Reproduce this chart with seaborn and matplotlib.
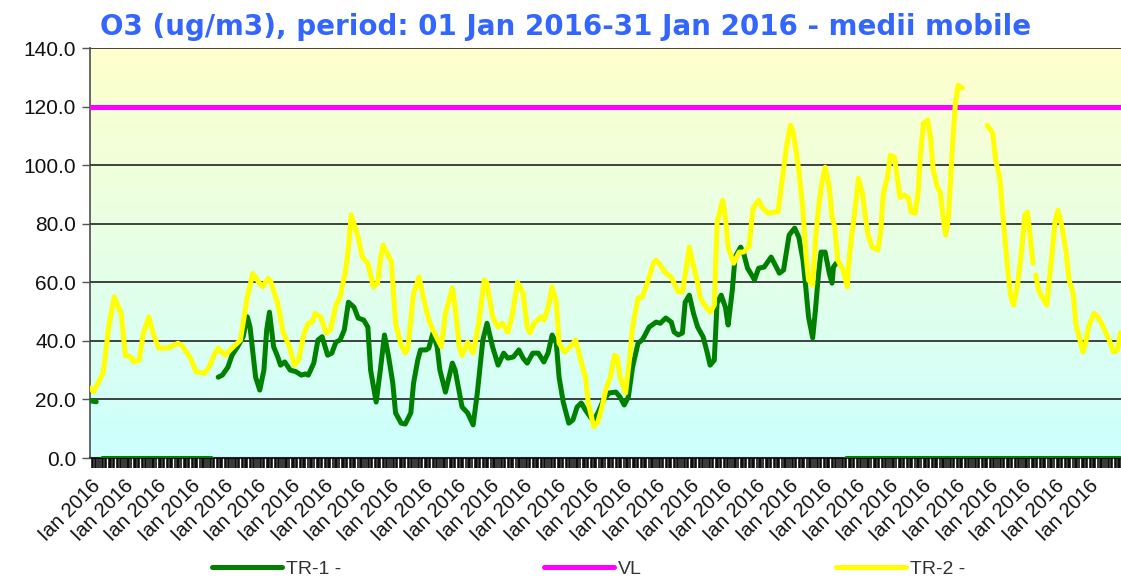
import numpy as np
import pandas as pd
import matplotlib
matplotlib.use("Agg")
import matplotlib.pyplot as plt
from matplotlib.colors import LinearSegmentedColormap
from matplotlib.lines import Line2D
import seaborn as sns

# hourly moving averages, January 2016 (hour index 0..743); None marks a break in the line
tr1_hours = [0, 4, None, 8, 87, None,
             92, 95, 99, 102, 106, 110, 113, 115, 119, 122, 125, 127, 129, 132, 135, 137, 140, 144, 148,
             152, 155, 157, 161, 164, 167, 171, 174, 177, 180, 183, 186, 190, 193, 197, 200, 202, 206, 209,
             212, 215, 218, 220, 224, 227, 231, 233, 236, 238, 242, 244, 247, 250, 252, 256, 261, 263, 268,
             272, 276, 279, 283, 286, 290, 294, 298, 301, 305, 309, 312, 315, 319, 323, 327, 330, 333, 336,
             338, 341, 345, 348, 351, 354, 357, 361, 363, 366, 370, 374, 379, 382, 385, 388, 391, 395, 398,
             400, 403, 408, 411, 415, 419, 421, 424, 427, 429, 432, 435, 438, 442, 445, 447, 450, 452, 455,
             458, 460, 463, 465, 469, 471, 474, 477, 479, 482, 486, 491, 494, 497, 500, 504, 508, 511, 514,
             516, 518, 521, 523, 525, 527, 530, 533, 535, 536, 538, None, 545, 743]
tr1_values = [19.5, 19.2, None, 0, 0, None,
              27.6, 28.3, 31, 35.1, 38, 41.4, 48.2, 44.7, 27.6, 23.2, 30, 43.7, 49.8, 38, 34.5, 31.7, 32.8, 30, 29.5,
              28.3, 28.7, 28.3, 32.4, 40.3, 41.4, 35.1, 35.8, 39.6, 40.3, 43.7, 53.2, 51.5, 47.8, 47.1, 44.7, 30, 19.1, 30,
              42, 34.5, 25.6, 15.4, 11.9, 11.6, 15.4, 25.6, 33.4, 36.9, 36.9, 37.5, 42.7, 38, 30, 22.5, 32.4, 30, 17.4,
              15.4, 11.3, 22.2, 40.3, 46, 38, 31.7, 35.8, 34.1, 34.5, 36.9, 34.1, 32.4, 35.8, 35.8, 32.8, 35.8, 42, 39.2,
              27.6, 19.1, 11.9, 13, 17.4, 18.8, 16.4, 13.7, 13, 15.4, 19.8, 22.2, 22.5, 20.8, 18.1, 20.8, 31, 39.2, 40.3,
              42, 44.7, 46.4, 46, 47.8, 46.4, 43, 42, 42.7, 53.2, 55.6, 49.4, 44.7, 41.3, 35.8, 31.7, 33.4, 52.9, 55.6,
              51.5, 45.4, 57.3, 68.6, 72, 70.3, 64.8, 62.5, 60.8, 64.8, 65.2, 68.6, 65.9, 63.1, 64.2, 76.1, 78.5, 75.4, 67.6,
              58.4, 48.2, 41, 50.5, 61.8, 70.3, 70.3, 63.1, 59.7, 65.2, 66.5, None, 0, 0]

tr2_hours = [0, 2, 9, 13, 17, 22, 25, 29, 31, 35, 38, 42, 45, 49, 56, 63, 66, 72, 76, 82, 85, 89, 92, 97,
             103, 108, 113, 117, 121, 124, 128, 130, 135, 139, 143, 147, 150, 154, 157, 160, 162, 166, 170,
             173, 177, 180, 184, 186, 188, 193, 196, 200, 204, 207, 209, 211, 217, 220, 224, 227, 229, 233,
             237, 240, 244, 247, 253, 256, 261, 263, 266, 268, 272, 276, 280, 284, 286, 290, 294, 297, 301,
             304, 308, 312, 315, 317, 320, 325, 327, 330, 333, 336, 338, 342, 346, 350, 354, 357, 359, 363,
             366, 369, 372, 375, 378, 380, 382, 386, 389, 391, 395, 398, 402, 406, 408, 411, 415, 419, 421,
             424, 427, 429, 432, 434, 438, 440, 444, 447, 450, 452, 456, 458, 460, 464, 468, 471, 475, 478,
             482, 485, 489, 493, 496, 499, 502, 505, 507, 511, 514, 516, 518, 521, 523, 525, 528, 530, 533,
             535, 537, 539, 543, 546, 547, 549, 551, 554, 557, 559, 561, 564, 568, 570, 572, 575, 577, 580,
             582, 584, 587, 590, 592, 595, 597, 599, 601, 604, 606, 608, 611, 613, 616, 617, 619, 622, 624,
             626, 629, None, 647, 651, 653, 656, 659, 662, 664, 666, 669, 672, 674, 676, 678, 680, None,
             682, 684, 687, 690, 691, 694, 696, 698, 701, 704, 706, 709, 711, 713, 716, 718, 720, 724, 727,
             731, 735, 738, 741, 743]
tr2_values = [23.9, 22.6, 29, 44.7, 55, 49.4, 35, 34.5, 32.8, 33.4, 42.6, 48.2, 42.6, 37.5, 37.6, 39.2, 38.3, 34.1, 29.5, 28.9, 30.6, 35.1, 37.5, 35.1,
              38, 40.2, 55, 63, 60.2, 58.5, 61.3, 60.2, 52.8, 42.7, 38.6, 31.7, 33.4, 42.7, 46, 46.5, 49.4, 48.2, 42.7,
              43.7, 52.2, 55, 64.2, 72, 83, 75.4, 68.6, 66.5, 58.4, 59.7, 67.6, 72.7, 67, 46, 38.6, 35.8, 38, 56.3,
              61.8, 55, 47.1, 43.7, 38, 49.4, 58, 51.5, 38, 35, 39.6, 35.8, 46, 60.8, 59.7, 48.2, 44.7, 46, 43,
              48.2, 60, 56.3, 44.7, 42.7, 46, 48.2, 47.1, 51.2, 58.4, 53.2, 39.2, 36.2, 38, 40.3, 32.8, 27.6, 19.1, 10.6,
              12.3, 17.4, 23.9, 27.6, 35.1, 34.5, 27.6, 22.2, 34.5, 44.7, 54.6, 55, 60.2, 66.5, 67.6, 65.9, 63.1, 61.8, 59.7,
              56.7, 56.7, 62.5, 72, 67.6, 59.7, 54.6, 51.5, 49.8, 52.2, 80.2, 88, 82.3, 72, 66.5, 70.3, 70.3, 72, 85.3,
              88, 85.3, 83.6, 84, 84, 95, 106, 113.6, 111.3, 98.3, 84.6, 70, 60.8, 59, 74.4, 84.6, 95, 99.3, 92.5,
              82.3, 78.8, 67.6, 64.2, 58.4, 66.5, 75.4, 82.3, 95.5, 90.4, 82.3, 76.1, 72, 71, 76.8, 90.4, 95.9, 103.4, 102.7,
              95.9, 89, 89.8, 89, 84, 83.6, 90.4, 105, 114.3, 115.4, 109.6, 98.3, 92.5, 90.8, 78.8, 76.1, 82.3, 107.5, 121.2,
              127.3, 126.3, None, 113.6, 110.9, 101.7, 95.9, 78.8, 63.1, 55, 52.2, 59.7, 72, 82.9, 84, 75.4, 66.5, None,
              62.5, 57.3, 54.6, 52.2, 57.3, 71, 81.2, 84.6, 78.8, 70, 60.8, 56.3, 45.4, 42, 36.2, 39.2, 44.7, 49.4, 48.2,
              44.4, 40.3, 36.2, 36.9, 42.7]

vl_value = 120
n_hours = 744
day_hours = list(range(0, n_hours, 24))
day_labels = ["Ian 2016"] * len(day_hours)
y_ticks = [0, 20, 40, 60, 80, 100, 120, 140]

title = "O3 (ug/m3), period: 01 Jan 2016-31 Jan 2016 - medii mobile"


def split_segments(hours, values):
    df = pd.DataFrame({"hour": hours, "o3": values}, dtype=float)
    df["seg"] = df["o3"].isna().cumsum()
    return df.dropna()


sns.set_theme(style="white")
plt.rcParams["font.family"] = ["Liberation Sans", "DejaVu Sans"]

fig = plt.figure(figsize=(11.21, 5.78), dpi=100)
ax = fig.add_axes([90 / 1121, 120 / 578, 1031 / 1121, 410 / 578])

# yellow-to-cyan gradient background
cmap = LinearSegmentedColormap.from_list("bg", ["#CCFFFF", "#E6FFE6", "#FFFFCC"])
ax.imshow(np.linspace(0, 1, 256).reshape(-1, 1), cmap=cmap, origin="lower",
          extent=[-0.5, n_hours - 0.5, 0, 140], aspect="auto", zorder=0)

sns.lineplot(data=split_segments(tr1_hours, tr1_values), x="hour", y="o3", units="seg",
             estimator=None, sort=False, color="#008000", lw=3.6, ax=ax, legend=False, zorder=3)
ax.axhline(vl_value, color="#FF00FF", lw=3.6, zorder=4)
sns.lineplot(data=split_segments(tr2_hours, tr2_values), x="hour", y="o3", units="seg",
             estimator=None, sort=False, color="#FFFF00", lw=3.6, ax=ax, legend=False, zorder=5)

ax.set_xlim(-0.5, n_hours - 0.5)
ax.set_ylim(0, 140)
ax.set_yticks(y_ticks)
ax.set_yticklabels([f"{v:.1f}" for v in y_ticks], fontsize=15, color="#111111")
ax.yaxis.grid(True, color="#222222", lw=1.2)
ax.set_axisbelow(False)
for line in ax.get_ygridlines():
    line.set_zorder(1)
ax.tick_params(axis="y", left=True, length=6, width=1, color="#555555", pad=4)

ax.set_xticks(day_hours)
ax.set_xticklabels(day_labels, rotation=45, ha="right", rotation_mode="anchor",
                   fontsize=14.5, color="#111111")
ax.tick_params(axis="x", which="major", bottom=True, length=0, pad=13)
minor = [h for h in range(n_hours) if h % 6 != 0]
ax.set_xticks(minor, minor=True)
ax.tick_params(axis="x", which="minor", bottom=True, length=7, width=1.1, color="black")
ax.set_xlabel("")
ax.set_ylabel("")

for side in ["top", "right"]:
    ax.spines[side].set_visible(False)
ax.spines["left"].set_color("#555555")
ax.spines["bottom"].set_color("#333333")
ax.spines["bottom"].set_linewidth(1.5)

fig.text(566 / 1121, 1 - 27 / 578, title, ha="center", va="center", fontsize=20,
         fontweight="bold", color="#3366FF", family="DejaVu Sans")

# three legend entries along the bottom
entries = [("TR-1 -", "#008000", 212), ("VL", "#FF00FF", 544), ("TR-2 -", "#FFFF00", 836)]
for label, color, xpix in entries:
    handle = Line2D([], [], color=color, lw=3.6)
    fig.legend([handle], [label], loc="center left", bbox_to_anchor=(xpix / 1121, 1 - 569 / 578),
               frameon=False, fontsize=14, handlelength=3.6, handletextpad=0.2,
               labelcolor="#333333", borderpad=0, borderaxespad=0)

fig.savefig("out.png", dpi=100)
